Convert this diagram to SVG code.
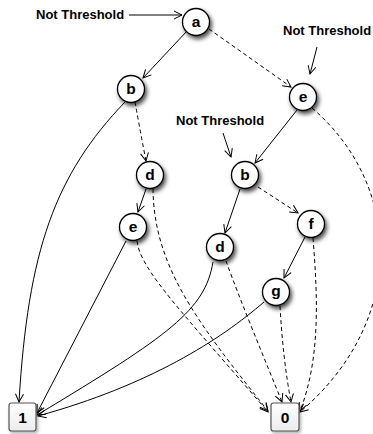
<svg xmlns="http://www.w3.org/2000/svg" width="373" height="434" viewBox="0 0 373 434">
  <style>
    .edge { fill: none; stroke: #000; stroke-width: 1; marker-end: url(#arrow); }
    .dash { stroke-dasharray: 4 3; }
    .node circle { fill: #fff; stroke: #000; stroke-width: 1.3; filter: url(#shadow); }
    .term rect { fill: url(#boxfill); stroke: #555; stroke-width: 1.2; filter: url(#softshadow); }
    .lbl { font-family: "Liberation Sans", Arial, sans-serif; font-weight: bold; font-size: 15.5px; text-anchor: middle; fill: #000; }
    .note { font-family: "Liberation Sans", Arial, sans-serif; font-weight: bold; font-size: 13px; fill: #000; }
  </style>
  <defs>
    <marker id="arrow" markerUnits="userSpaceOnUse" markerWidth="10" markerHeight="10" refX="9" refY="5" orient="auto">
      <path d="M1,1 L9,5 L1,9" fill="none" stroke="#000" stroke-width="1"/>
    </marker>
    <filter id="shadow" x="-40%" y="-40%" width="190%" height="190%">
      <feDropShadow dx="2" dy="3" stdDeviation="2" flood-color="#000" flood-opacity="0.7"/>
    </filter>
    <filter id="softshadow" x="-30%" y="-30%" width="170%" height="170%">
      <feDropShadow dx="1.5" dy="2" stdDeviation="1.5" flood-color="#000" flood-opacity="0.3"/>
    </filter>
    <linearGradient id="boxfill" x1="0" y1="0" x2="0" y2="1">
      <stop offset="0" stop-color="#fff"/>
      <stop offset="1" stop-color="#ececec"/>
    </linearGradient>
  </defs>

  <!-- connectors -->
  <g id="connectors">
    <path class="edge" d="M187,31 L143,78"/>
    <path class="edge dash" d="M209,29 L291,87"/>
    <path class="edge" d="M125,102 C 55,175 28,250 19,402"/>
    <path class="edge dash" d="M135,102 Q 140,130 146,161"/>
    <path class="edge" d="M146,189 L138,212"/>
    <path class="edge dash" d="M153,189 C 154,265 195,320 268,411"/>
    <path class="edge" d="M126,241 L37,413"/>
    <path class="edge dash" d="M137,241 C 140,270 185,315 268,412"/>
    <path class="edge" d="M297,110 L255,163"/>
    <path class="edge dash" d="M312,108 C 402,185 408,320 300,412"/>
    <path class="edge" d="M240,189 L225,233"/>
    <path class="edge dash" d="M258,187 L298,213"/>
    <path class="edge" d="M213,262 C 205,310 170,335 37,415"/>
    <path class="edge dash" d="M226,261 C 240,300 265,360 282,402"/>
    <path class="edge" d="M305,237 L284,278"/>
    <path class="edge dash" d="M313,238 C 318,300 320,360 300,411"/>
    <path class="edge" d="M264,302 C 220,340 150,385 38,416"/>
    <path class="edge dash" d="M280,306 Q 283,360 291,402"/>
    <!-- annotation pointers -->
    <path class="edge" d="M129,15 L182,15"/>
    <path class="edge" d="M317,47 L310,74"/>
    <path class="edge" d="M223,133 L231,157"/>
  </g>

  <!-- annotations -->
  <g id="notes">
    <text class="note" x="36" y="19">Not Threshold</text>
    <text class="note" x="283" y="35">Not Threshold</text>
    <text class="note" x="176" y="125">Not Threshold</text>
  </g>

  <!-- decision nodes -->
  <g id="n_a" class="node"><circle cx="196" cy="22" r="13.5"/><text class="lbl" x="196" y="27">a</text></g>
  <g id="n_b1" class="node"><circle cx="131" cy="89" r="13.5"/><text class="lbl" x="131" y="94">b</text></g>
  <g id="n_e1" class="node"><circle cx="303" cy="97" r="13.5"/><text class="lbl" x="303" y="102">e</text></g>
  <g id="n_d1" class="node"><circle cx="150" cy="175" r="13.5"/><text class="lbl" x="150" y="180">d</text></g>
  <g id="n_b2" class="node"><circle cx="245" cy="175" r="13.5"/><text class="lbl" x="245" y="180">b</text></g>
  <g id="n_e2" class="node"><circle cx="133" cy="227" r="13.5"/><text class="lbl" x="133" y="232">e</text></g>
  <g id="n_f" class="node"><circle cx="311" cy="224" r="13.5"/><text class="lbl" x="311" y="229">f</text></g>
  <g id="n_d2" class="node"><circle cx="220" cy="247" r="13.5"/><text class="lbl" x="220" y="252">d</text></g>
  <g id="n_g" class="node"><circle cx="276" cy="292" r="13.5"/><text class="lbl" x="276" y="296">g</text></g>

  <!-- terminal nodes -->
  <g id="t_1" class="term"><rect x="9" y="403" width="27" height="28" rx="2.5"/><text class="lbl" x="22.5" y="423">1</text></g>
  <g id="t_0" class="term"><rect x="271" y="403" width="28" height="28" rx="2.5"/><text class="lbl" x="285" y="423">0</text></g>
</svg>
